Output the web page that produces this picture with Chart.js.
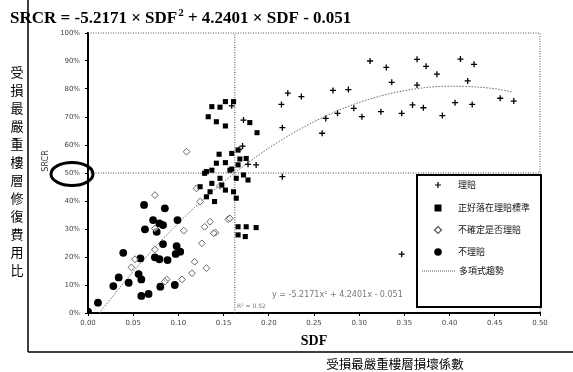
<!DOCTYPE html>
<html>
<head>
<meta charset="utf-8">
<script src="https://cdn.jsdelivr.net/npm/chart.js@4/dist/chart.umd.min.js"></script>
<style>
  html, body { margin: 0; padding: 0; background: #fff; }
  #wrap { width: 573px; height: 372px; }
</style>
</head>
<body>
<div id="wrap"><canvas id="srcrChart" width="573" height="372"></canvas></div>
<script>
// tick labels
const xTicks = [0, 0.05, 0.1, 0.15, 0.2, 0.25, 0.3, 0.35, 0.4, 0.45, 0.5];
const yTicks = [0, 10, 20, 30, 40, 50, 60, 70, 80, 90, 100];

// 理賠
const claimSdf = [0.312, 0.330, 0.364, 0.374, 0.386, 0.412, 0.427, 0.336, 0.364, 0.420,
  0.221, 0.236, 0.271, 0.288, 0.214, 0.294, 0.276, 0.263, 0.303, 0.324,
  0.347, 0.359, 0.371, 0.392, 0.406, 0.425, 0.456, 0.471, 0.215, 0.259,
  0.172, 0.171, 0.177, 0.215, 0.347, 0.159, 0.167, 0.186];
const claimPct = [90.0, 87.7, 90.6, 88.1, 85.3, 90.7, 88.8, 82.4, 81.4, 82.9,
  78.5, 77.3, 79.5, 79.8, 74.5, 73.1, 71.3, 69.5, 70.1, 71.9,
  71.3, 74.3, 73.3, 70.5, 75.1, 74.5, 76.7, 75.7, 66.2, 64.2,
  68.9, 59.6, 53.1, 48.7, 21.0, 74.0, 58.4, 52.9];

// 正好落在理賠標準
const edgeSdf = [0.152, 0.161, 0.137, 0.146, 0.133, 0.142, 0.152, 0.179, 0.187, 0.145,
  0.159, 0.175, 0.152, 0.166, 0.159, 0.129, 0.137, 0.157, 0.172, 0.177,
  0.164, 0.137, 0.148, 0.124, 0.131, 0.140, 0.152, 0.161, 0.164, 0.146,
  0.166, 0.175, 0.186, 0.166, 0.174, 0.142, 0.166, 0.135, 0.131, 0.168];
const edgePct = [75.5, 75.5, 73.7, 73.5, 70.1, 68.3, 66.8, 68.0, 64.4, 56.7,
  57.0, 55.2, 53.7, 52.9, 51.4, 49.9, 51.0, 51.0, 49.3, 47.5,
  48.1, 46.3, 45.7, 45.1, 41.5, 39.8, 43.9, 43.3, 41.0, 48.1,
  30.8, 30.8, 30.5, 27.9, 27.3, 53.5, 58.2, 43.3, 50.5, 55.0];

// 不確定是否理賠
const unsureSdf = [0.074, 0.106, 0.074, 0.052, 0.048, 0.074, 0.087, 0.104, 0.085, 0.124,
  0.135, 0.141, 0.126, 0.118, 0.131, 0.115, 0.155, 0.146, 0.109, 0.129,
  0.139, 0.120, 0.157];
const unsurePct = [42.1, 29.4, 22.7, 19.2, 16.3, 30.2, 12.0, 12.0, 11.2, 39.8,
  32.6, 28.7, 24.9, 18.3, 16.0, 14.2, 33.5, 45.4, 57.6, 30.8,
  28.5, 44.5, 33.8];

// 不理賠
const noClaimSdf = [0.000, 0.011, 0.039, 0.034, 0.028, 0.045, 0.058, 0.056, 0.059, 0.059,
  0.067, 0.062, 0.063, 0.072, 0.076, 0.079, 0.085, 0.083, 0.083, 0.074,
  0.079, 0.088, 0.080, 0.096, 0.099, 0.098, 0.102, 0.097];
const noClaimPct = [0.5, 3.7, 21.5, 12.7, 9.6, 10.8, 19.5, 13.9, 12.0, 6.1,
  6.8, 38.6, 29.9, 33.2, 29.0, 32.0, 37.4, 31.4, 24.6, 19.9,
  19.2, 18.9, 9.4, 10.0, 33.2, 23.9, 21.9, 21.1];

// 多項式趨勢
const trendSdf = [0.0125, 0.05, 0.1, 0.15, 0.2, 0.25, 0.3, 0.35, 0.4, 0.45, 0.47];
const trendPct = [0, 14.8, 32.1, 46.8, 58.9, 68.3, 75.2, 79.4, 81.0, 80.1, 78.9];

// reference lines at the 50% threshold
const cutSdf = 0.1624;
const cutPct = 50;

function toPoints(xs, ys) {
  return xs.map(function (x, i) { return { x: x, y: ys[i] }; });
}

const legendItems = [
  { label: "理賠", kind: "cross" },
  { label: "正好落在理賠標準", kind: "rect" },
  { label: "不確定是否理賠", kind: "diamond" },
  { label: "不理賠", kind: "circle" },
  { label: "多項式趨勢", kind: "line" },
];

const decor = {
  id: "decor",
  afterDraw(chart) {
    const c = chart.ctx;
    const a = chart.chartArea;
    c.save();

    // plot border (dotted top and right)
    c.strokeStyle = "#555";
    c.lineWidth = 1;
    c.setLineDash([1, 1.5]);
    c.beginPath();
    c.moveTo(a.left, a.top);
    c.lineTo(a.right, a.top);
    c.lineTo(a.right, a.bottom);
    c.stroke();
    c.setLineDash([]);

    // page frame lines
    c.strokeStyle = "#000";
    c.lineWidth = 1.5;
    c.beginPath();
    c.moveTo(28, 0);
    c.lineTo(28, 352);
    c.moveTo(28, 352);
    c.lineTo(573, 352);
    c.stroke();

    // title
    c.fillStyle = "#000";
    c.font = "bold 17px 'Liberation Serif', 'Times New Roman', serif";
    c.textBaseline = "alphabetic";
    c.textAlign = "left";
    let tx = 10;
    const ty = 23;
    const t1 = "SRCR = -5.2171 × SDF";
    c.fillText(t1, tx, ty);
    tx += c.measureText(t1).width;
    c.font = "bold 11px 'Liberation Serif', serif";
    c.fillText("2", tx + 1, ty - 7);
    tx += c.measureText("2").width + 1;
    c.font = "bold 17px 'Liberation Serif', 'Times New Roman', serif";
    c.fillText(" + 4.2401 × SDF - 0.051", tx, ty);

    // left vertical Chinese title
    c.font = "13px 'Noto Sans CJK TC', sans-serif";
    c.textAlign = "center";
    c.textBaseline = "middle";
    const leftTitle = "受損最嚴重樓層修復費用比";
    for (let i = 0; i < leftTitle.length; i++) {
      c.fillText(leftTitle[i], 17, 72 + i * 18);
    }

    // SRCR axis title
    c.save();
    c.translate(46, 161);
    c.rotate(-Math.PI / 2);
    c.font = "8px 'DejaVu Sans', sans-serif";
    c.fillStyle = "#333";
    c.fillText("SRCR", 0, 0);
    c.restore();

    // ellipse around 50%
    c.strokeStyle = "#000";
    c.lineWidth = 3;
    c.beginPath();
    c.ellipse(72, 174, 21, 11.5, 0, 0, Math.PI * 2);
    c.stroke();

    // SDF axis title and Chinese subtitle
    c.fillStyle = "#000";
    c.font = "bold 14px 'Liberation Serif', serif";
    c.fillText("SDF", 314, 341);
    c.font = "12.5px 'Noto Sans CJK TC', sans-serif";
    c.fillText("受損最嚴重樓層損壞係數", 395, 364);

    // trend equation
    c.fillStyle = "#777";
    c.textAlign = "left";
    c.font = "8px 'DejaVu Sans', sans-serif";
    c.fillText("y = -5.2171x² + 4.2401x - 0.051", 272, 295);
    c.font = "6px 'DejaVu Sans', sans-serif";
    c.fillText("R² = 0.52", 237, 306);

    // legend box
    const lx = 417, ly = 175, lw = 124, lh = 132;
    c.fillStyle = "#fff";
    c.fillRect(lx, ly, lw, lh);
    c.strokeStyle = "#000";
    c.lineWidth = 2;
    c.strokeRect(lx, ly, lw, lh);
    const rows = [185, 208, 230, 252, 271];
    legendItems.forEach(function (item, i) {
      const y = rows[i];
      const mx = 438;
      c.fillStyle = "#000";
      c.strokeStyle = "#000";
      c.lineWidth = 1.2;
      if (item.kind === "cross") {
        c.beginPath();
        c.moveTo(mx - 3, y); c.lineTo(mx + 3, y);
        c.moveTo(mx, y - 3); c.lineTo(mx, y + 3);
        c.stroke();
      } else if (item.kind === "rect") {
        c.fillRect(mx - 3.5, y - 3.5, 7, 7);
      } else if (item.kind === "diamond") {
        c.strokeStyle = "#555";
        c.beginPath();
        c.moveTo(mx, y - 3.5); c.lineTo(mx + 3.5, y);
        c.lineTo(mx, y + 3.5); c.lineTo(mx - 3.5, y);
        c.closePath();
        c.stroke();
      } else if (item.kind === "circle") {
        c.beginPath();
        c.arc(mx, y, 3.8, 0, Math.PI * 2);
        c.fill();
      } else {
        c.strokeStyle = "#555";
        c.lineWidth = 1;
        c.setLineDash([1, 1]);
        c.beginPath();
        c.moveTo(422, y); c.lineTo(456, y);
        c.stroke();
        c.setLineDash([]);
      }
      c.fillStyle = "#111";
      c.font = "9px 'Noto Sans CJK TC', sans-serif";
      c.textAlign = "left";
      c.textBaseline = "middle";
      c.fillText(item.label, item.kind === "line" ? 459 : 458, y);
    });

    c.restore();
  },
};

const ctx = document.getElementById("srcrChart");
new Chart(ctx, {
  type: "scatter",
  data: {
    datasets: [
      {
        label: "理賠",
        data: toPoints(claimSdf, claimPct),
        pointStyle: "cross",
        pointRadius: 3,
        borderColor: "#000",
        borderWidth: 1.3,
      },
      {
        label: "正好落在理賠標準",
        data: toPoints(edgeSdf, edgePct),
        pointStyle: "rect",
        pointRadius: 3.6,
        backgroundColor: "#000",
        borderColor: "#000",
        borderWidth: 0,
      },
      {
        label: "不確定是否理賠",
        data: toPoints(unsureSdf, unsurePct),
        pointStyle: "rectRot",
        pointRadius: 3.4,
        backgroundColor: "rgba(255,255,255,0.6)",
        borderColor: "#666",
        borderWidth: 1,
      },
      {
        label: "不理賠",
        data: toPoints(noClaimSdf, noClaimPct),
        pointStyle: "circle",
        pointRadius: 3.9,
        backgroundColor: "#000",
        borderColor: "#000",
        borderWidth: 0,
      },
      {
        label: "多項式趨勢",
        type: "line",
        data: toPoints(trendSdf, trendPct),
        showLine: true,
        pointRadius: 0,
        borderColor: "#666",
        borderWidth: 1,
        borderDash: [1.5, 1.5],
        cubicInterpolationMode: "monotone",
        fill: false,
      },
      {
        label: "50%",
        type: "line",
        data: [{ x: 0, y: cutPct }, { x: 0.5, y: cutPct }],
        showLine: true,
        pointRadius: 0,
        borderColor: "#444",
        borderWidth: 1,
        borderDash: [1, 1.5],
      },
      {
        label: "cut",
        type: "line",
        data: [{ x: cutSdf, y: 0 }, { x: cutSdf, y: 100 }],
        showLine: true,
        pointRadius: 0,
        borderColor: "#444",
        borderWidth: 1,
        borderDash: [1, 1.5],
      },
    ],
  },
  options: {
    responsive: false,
    animation: false,
    layout: { padding: { left: 50, top: 33, right: 33, bottom: 39 } },
    plugins: {
      legend: { display: false },
      tooltip: { enabled: false },
    },
    scales: {
      x: {
        type: "linear",
        min: 0,
        max: 0.5,
        afterFit: function (s) { s.height = 20; },
        afterBuildTicks: function (s) { s.ticks = xTicks.map(function (v) { return { value: v }; }); },
        ticks: {
          callback: function (v) { return v.toFixed(2); },
          font: { size: 7, family: "'DejaVu Sans', sans-serif" },
          color: "#444",
          padding: 3,
          maxRotation: 0,
        },
        grid: { drawOnChartArea: false, tickLength: 3, tickColor: "#000" },
        border: { color: "#000", width: 2 },
      },
      y: {
        type: "linear",
        min: 0,
        max: 100,
        afterFit: function (s) { s.width = 38; },
        afterBuildTicks: function (s) { s.ticks = yTicks.map(function (v) { return { value: v }; }); },
        ticks: {
          callback: function (v) { return v + "%"; },
          font: { size: 7, family: "'DejaVu Sans', sans-serif" },
          color: "#444",
          padding: 5,
        },
        grid: { drawOnChartArea: false, tickLength: 3, tickColor: "#000" },
        border: { color: "#000", width: 2 },
      },
    },
  },
  plugins: [decor],
});
</script>
</body>
</html>
